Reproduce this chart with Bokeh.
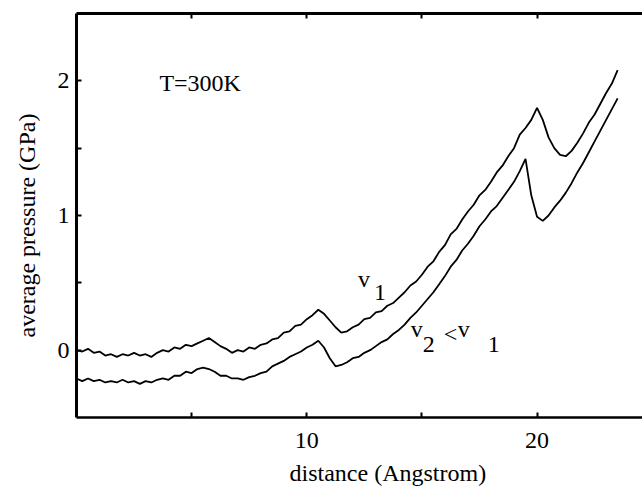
from bokeh.plotting import figure
from bokeh.models import Range1d, LinearAxis, FixedTicker, Label, Title
from bokeh.embed import file_html
from bokeh.resources import INLINE

# Sampled tip-sample distance (Angstrom)
distance = [
    0.00, 0.25, 0.50, 0.75, 1.00, 1.25, 1.50, 1.75, 2.00, 2.25,
    2.50, 2.75, 3.00, 3.25, 3.50, 3.75, 4.00, 4.25, 4.50, 4.75,
    5.00, 5.25, 5.50, 5.75, 6.00, 6.25, 6.50, 6.75, 7.00, 7.25,
    7.50, 7.75, 8.00, 8.25, 8.50, 8.75, 9.00, 9.25, 9.50, 9.75,
    10.00, 10.25, 10.50, 10.75, 11.00, 11.25, 11.50, 11.75, 12.00, 12.25,
    12.50, 12.75, 13.00, 13.25, 13.50, 13.75, 14.00, 14.25, 14.50, 14.75,
    15.00, 15.25, 15.50, 15.75, 16.00, 16.25, 16.50, 16.75, 17.00, 17.25,
    17.50, 17.75, 18.00, 18.25, 18.50, 18.75, 19.00, 19.25, 19.50, 19.75,
    20.00, 20.25, 20.50, 20.75, 21.00, 21.25, 21.50, 21.75, 22.00, 22.25,
    22.50, 22.75, 23.00, 23.25, 23.50,
]

# Average pressure (GPa) at speed v1
pressure_v1 = [
    0.00, -0.01, 0.01, -0.02, -0.01, -0.04, -0.03, -0.05, -0.03, -0.04,
    -0.02, -0.04, -0.03, -0.05, -0.02, 0.00, -0.01, 0.02, 0.01, 0.04,
    0.03, 0.05, 0.07, 0.09, 0.06, 0.03, 0.01, -0.02, 0.00, -0.01,
    0.02, 0.01, 0.04, 0.05, 0.08, 0.09, 0.13, 0.14, 0.18, 0.19,
    0.23, 0.26, 0.30, 0.27, 0.22, 0.17, 0.13, 0.14, 0.17, 0.19,
    0.23, 0.24, 0.28, 0.29, 0.33, 0.35, 0.39, 0.43, 0.48, 0.51,
    0.56, 0.62, 0.66, 0.73, 0.78, 0.86, 0.90, 0.97, 1.03, 1.08,
    1.15, 1.19, 1.25, 1.32, 1.37, 1.44, 1.50, 1.60, 1.65, 1.71,
    1.80, 1.71, 1.58, 1.50, 1.45, 1.44, 1.48, 1.54, 1.61, 1.69,
    1.75, 1.83, 1.91, 1.98, 2.08,
]

# Average pressure (GPa) at the slower speed v2
pressure_v2 = [
    -0.21, -0.23, -0.21, -0.23, -0.22, -0.24, -0.23, -0.24, -0.22, -0.24,
    -0.23, -0.25, -0.23, -0.24, -0.22, -0.21, -0.22, -0.19, -0.19, -0.16,
    -0.17, -0.14, -0.13, -0.14, -0.16, -0.19, -0.19, -0.21, -0.21, -0.22,
    -0.20, -0.19, -0.17, -0.16, -0.12, -0.10, -0.08, -0.05, -0.03, -0.01,
    0.02, 0.04, 0.07, 0.02, -0.06, -0.12, -0.11, -0.09, -0.06, -0.05,
    -0.02, 0.00, 0.03, 0.06, 0.08, 0.12, 0.15, 0.19, 0.24, 0.28,
    0.33, 0.38, 0.43, 0.49, 0.55, 0.62, 0.67, 0.74, 0.79, 0.85,
    0.92, 0.97, 1.03, 1.07, 1.13, 1.19, 1.25, 1.33, 1.42, 1.15,
    0.99, 0.96, 1.00, 1.06, 1.11, 1.17, 1.24, 1.32, 1.39, 1.47,
    1.55, 1.63, 1.71, 1.79, 1.87,
]

x_ticks = [5, 10, 15, 20]
x_tick_labels = {5: "", 10: "10", 15: "", 20: "20"}
y_ticks = [0, 0.5, 1, 1.5, 2]
y_tick_labels = {0: "0", 0.5: "", 1: "1", 1.5: "", 2: "2"}

FONT = "Liberation Serif"
SIZE = "24px"

p = figure(
    width=642, height=493,
    x_range=Range1d(0, 24.58), y_range=Range1d(-0.5, 2.5),
    output_backend="svg", toolbar_location=None,
    min_border_left=75, min_border_right=0,
    min_border_top=13, min_border_bottom=76,
)
p.outline_line_color = None
p.xgrid.visible = False
p.ygrid.visible = False
p.background_fill_color = "white"
p.border_fill_color = "white"

bottom_axis = p.below[0]
left_axis = p.left[0]
top_axis = LinearAxis()
p.add_layout(top_axis, "above")


def style_axis(ax, ticks, labels, line_width):
    ax.ticker = FixedTicker(ticks=ticks)
    ax.major_label_overrides = labels
    ax.axis_line_color = "black"
    ax.axis_line_width = line_width
    ax.major_tick_in = 5
    ax.major_tick_out = 0
    ax.major_tick_line_color = "black"
    ax.major_tick_line_width = 2
    ax.minor_tick_line_color = None
    ax.major_label_text_font = FONT
    ax.major_label_text_font_size = SIZE
    ax.major_label_text_color = "black"


style_axis(bottom_axis, x_ticks, x_tick_labels, 2.5)
bottom_axis.major_label_standoff = 15
style_axis(left_axis, y_ticks, y_tick_labels, 3)
left_axis.major_label_standoff = 7
style_axis(top_axis, x_ticks, {t: "" for t in x_ticks}, 3)
top_axis.major_label_text_font_size = "0px"
top_axis.major_label_standoff = 0

p.line(distance, pressure_v1, line_color="black", line_width=1.8)
p.line(distance, pressure_v2, line_color="black", line_width=1.8)


def add_text(x, y, text, **kw):
    p.add_layout(Label(x=x, y=y, text=text, text_font=FONT, text_font_size=SIZE,
                       text_color="black", **kw))


add_text(3.6, 1.89, "T=300K")
# v1 label
add_text(12.22, 0.43, "v")
add_text(12.92, 0.37, "1")
# v2 < v1 label
add_text(14.52, 0.057, "v")
add_text(15.04, -0.017, "2")
add_text(15.95, 0.02, "<")
add_text(16.56, 0.057, "v")
add_text(17.86, -0.017, "1")

# axis titles
x_title = Title(text="distance (Angstrom)", align="left", offset=213,
                vertical_align="bottom",
                text_font=FONT, text_font_size=SIZE, text_font_style="normal",
                text_color="black", standoff=15)
p.add_layout(x_title, "below")
y_title = Title(text="average pressure (GPa)", align="left", offset=80,
                vertical_align="top",
                text_font=FONT, text_font_size=SIZE, text_font_style="normal",
                text_color="black", standoff=26)
p.add_layout(y_title, "left")

open("out.html", "w").write(file_html(p, INLINE))
